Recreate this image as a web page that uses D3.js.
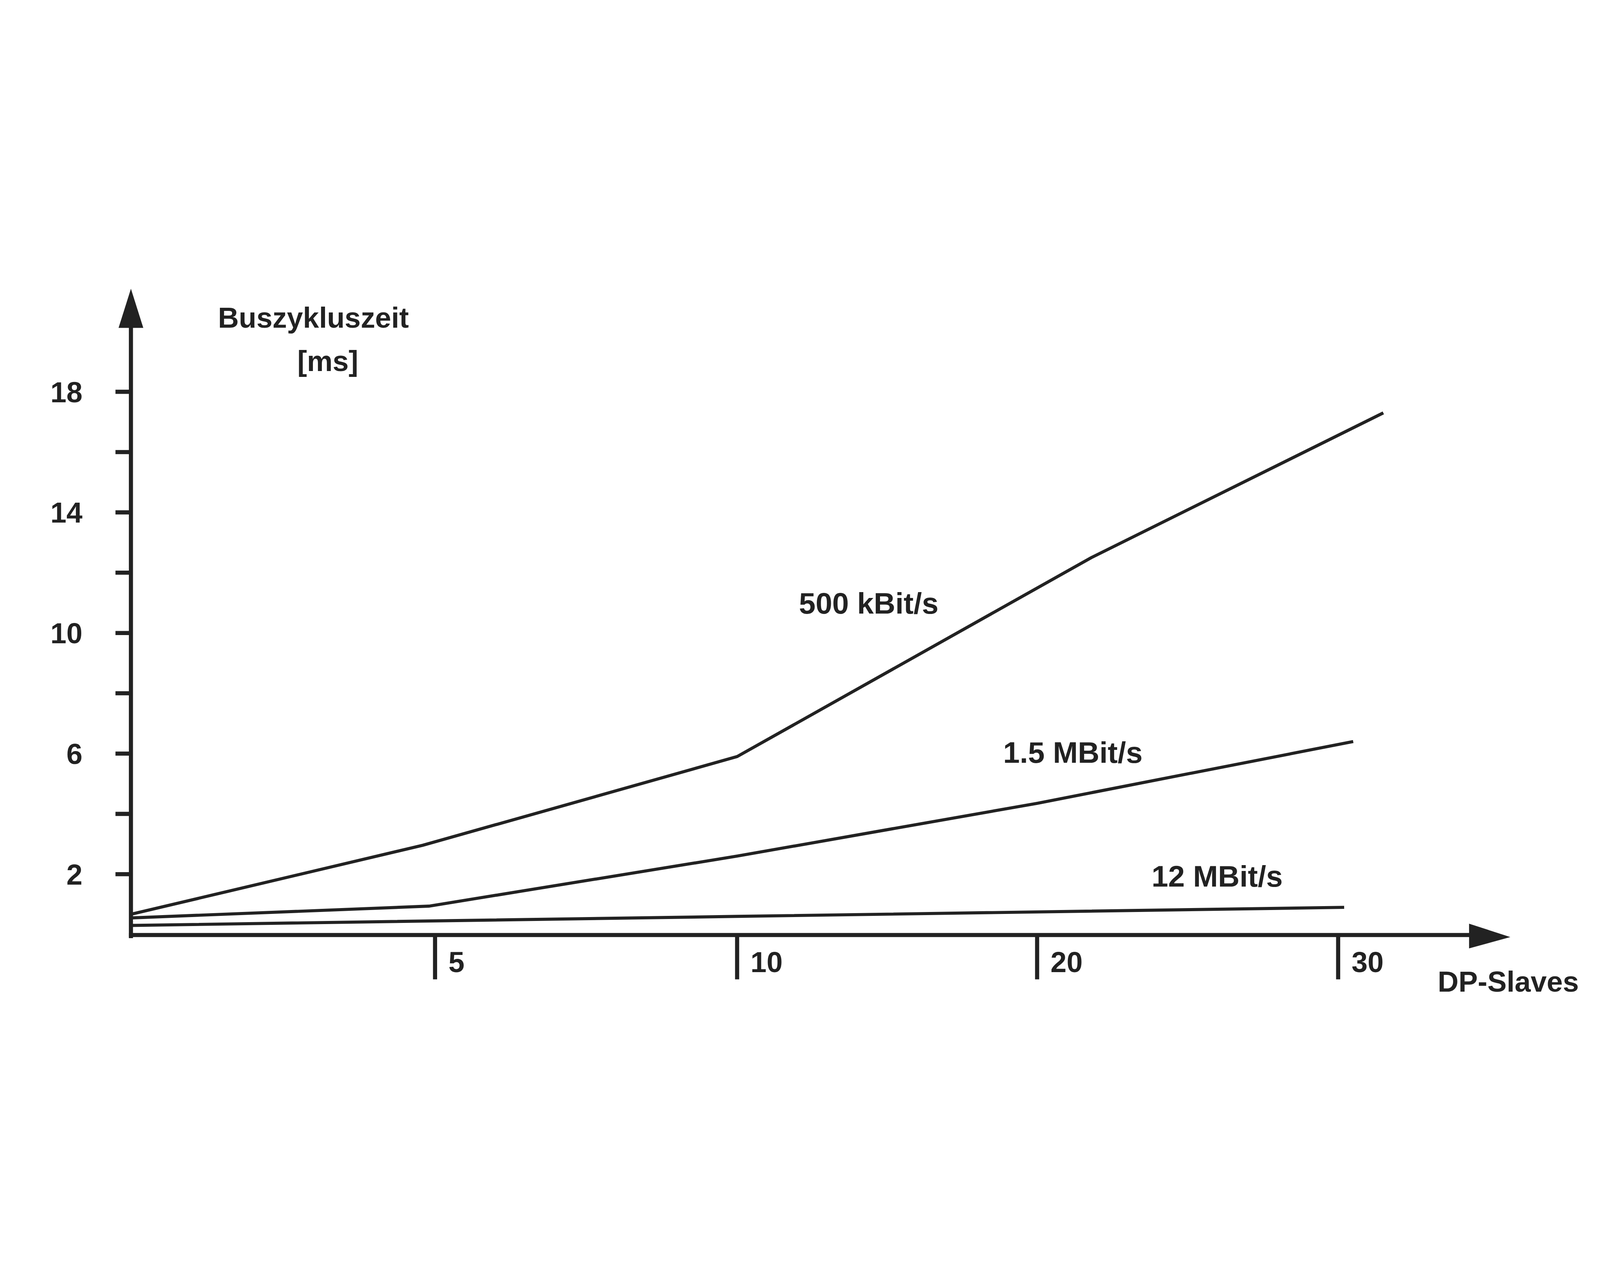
<!DOCTYPE html>
<html><head><meta charset="utf-8">
<script src="https://cdn.jsdelivr.net/npm/d3@7"></script>
<style>html,body{margin:0;padding:0;background:#fff;overflow:hidden}svg{display:block;width:100vw;height:100vh}</style></head>
<body><svg id="c" viewBox="0 0 1552 729" preserveAspectRatio="xMidYMid meet"></svg>
<script>
const xTicks=[5,10,20,30];
const yTicks=[2,6,10,14,18];
const yMinor=[4,8,12,16];
const series=[
 {name:"500 kBit/s",pts:[[0,0.67],[4.8,2.96],[10,5.9],[21.8,12.5],[31.5,17.3]],lab:[775,345]},
 {name:"1.5 MBit/s",pts:[[0,0.55],[4.9,0.94],[10,2.6],[20,4.35],[30.5,6.4]],lab:[973,490]},
 {name:"12 MBit/s",pts:[[0,0.3],[10,0.6],[30.2,0.9]],lab:[1117,610]}
];
const svg=d3.select("#c");
const g=svg.append("g");
const x=d3.scaleLinear().domain([0,5,10,20,30,40]).range([127,422,715,1006,1298,1590]);
const y=d3.scaleLinear().domain([0,20]).range([656.5,71.5]);
const font="'Liberation Sans',Arial,sans-serif";
const col="#222";
g.append("line").attr("x1",127).attr("x2",127).attr("y1",660).attr("y2",60).attr("stroke",col).attr("stroke-width",4);
g.append("path").attr("d","M115,68 L127,30 L139,68 Z").attr("fill",col);
g.append("line").attr("x1",125).attr("x2",1430).attr("y1",657).attr("y2",657).attr("stroke",col).attr("stroke-width",4);
g.append("path").attr("d","M1425,646 L1465,659 L1425,670 Z").attr("fill",col);
[...yTicks,...yMinor].forEach(v=>{
 g.append("line").attr("x1",112).attr("x2",127).attr("y1",y(v)).attr("y2",y(v)).attr("stroke",col).attr("stroke-width",4);
});
yTicks.forEach(v=>g.append("text").attr("x",80).attr("y",y(v)+10).attr("text-anchor","end")
 .attr("font-family",font).attr("font-weight","bold").attr("font-size",28).attr("fill",col).text(v));
xTicks.forEach(v=>{
 g.append("line").attr("x1",x(v)).attr("x2",x(v)).attr("y1",657).attr("y2",700).attr("stroke",col).attr("stroke-width",4);
 g.append("text").attr("x",x(v)+13).attr("y",693).attr("font-family",font).attr("font-weight","bold").attr("font-size",28).attr("fill",col).text(v);
});
const line=d3.line().x(d=>x(d[0])).y(d=>y(d[1]));
series.forEach(s=>{
 g.append("path").attr("d",line(s.pts)).attr("fill","none").attr("stroke",col).attr("stroke-width",3);
 g.append("text").attr("x",s.lab[0]).attr("y",s.lab[1]).attr("font-family",font).attr("font-weight","bold").attr("font-size",29).attr("fill",col).text(s.name);
});
g.append("text").attr("x",304).attr("y",68).attr("text-anchor","middle").attr("font-family",font).attr("font-weight","bold").attr("font-size",28).attr("fill",col).text("Buszykluszeit");
g.append("text").attr("x",318).attr("y",110).attr("text-anchor","middle").attr("font-family",font).attr("font-weight","bold").attr("font-size",28).attr("fill",col).text("[ms]");
g.append("text").attr("x",1463).attr("y",712).attr("text-anchor","middle").attr("font-family",font).attr("font-weight","bold").attr("font-size",28).attr("fill",col).text("DP-Slaves");
</script></body></html>
